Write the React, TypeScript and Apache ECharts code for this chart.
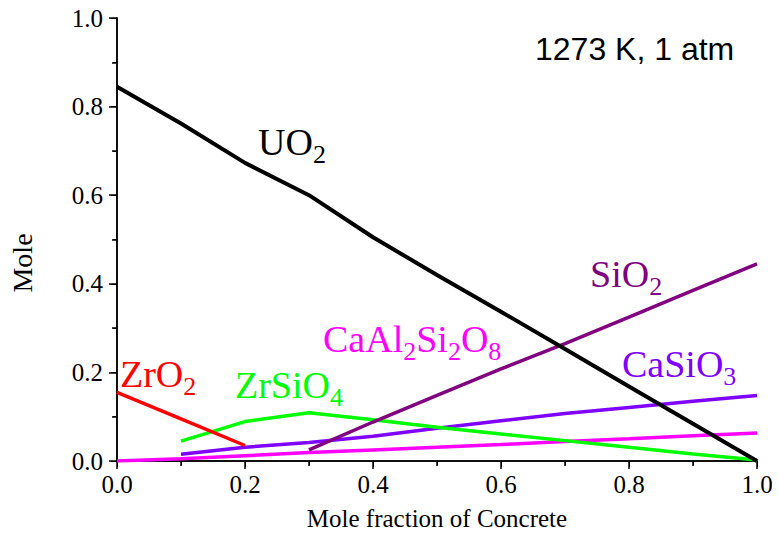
import React, { useEffect, useRef } from "react";
import * as echarts from "echarts";

const uo2X = [0, 0.1, 0.2, 0.3, 0.4, 0.5, 0.6, 0.7, 0.8, 0.9, 1.0];
const uo2Y = [0.845, 0.762, 0.673, 0.6, 0.505, 0.42, 0.337, 0.253, 0.168, 0.084, 0.0];
const zro2X = [0, 0.1, 0.2];
const zro2Y = [0.155, 0.095, 0.035];
const zrsio4X = [0.1, 0.2, 0.3, 0.4, 0.5, 0.6, 0.7, 0.8, 0.9, 1.0];
const zrsio4Y = [0.045, 0.089, 0.109, 0.093, 0.076, 0.061, 0.046, 0.031, 0.016, 0.002];
const sio2X = [0.3, 0.4, 0.5, 0.6, 0.7, 0.8, 0.9, 1.0];
const sio2Y = [0.025, 0.088, 0.148, 0.208, 0.265, 0.325, 0.385, 0.445];
const casio3X = [0.1, 0.2, 0.3, 0.4, 0.5, 0.6, 0.7, 0.8, 0.9, 1.0];
const casio3Y = [0.015, 0.031, 0.042, 0.056, 0.074, 0.091, 0.107, 0.121, 0.135, 0.148];
const caalX = [0, 0.1, 0.2, 0.3, 0.4, 0.5, 0.6, 0.7, 0.8, 0.9, 1.0];
const caalY = [0, 0.005, 0.012, 0.019, 0.025, 0.031, 0.037, 0.044, 0.05, 0.057, 0.063];

const SERIF = "'Liberation Serif', 'Times New Roman', serif";
const SANS = "'Liberation Sans', Arial, sans-serif";
const MAIN_FS = 38;
const SUB_FS = 26;

const zip = (xs: number[], ys: number[]) => xs.map((x, i) => [x, ys[i]]);

let measureCtx: CanvasRenderingContext2D | null = null;
function textWidth(t: string, fs: number) {
  if (!measureCtx) measureCtx = document.createElement("canvas").getContext("2d");
  if (!measureCtx) return t.length * fs * 0.5;
  measureCtx.font = `${fs}px ${SERIF}`;
  return measureCtx.measureText(t).width;
}

// parts: [isSub, text]
function formula(parts: [boolean, string][], color: string, x: number, baseline: number) {
  const children: any[] = [];
  let cx = x;
  for (const [sub, t] of parts) {
    const fs = sub ? SUB_FS : MAIN_FS;
    const b = sub ? baseline + 8 : baseline;
    children.push({
      type: "text",
      x: cx,
      y: b - 0.34 * fs,
      silent: true,
      style: {
        text: t,
        fontSize: fs,
        fontFamily: SERIF,
        fill: color,
        align: "left",
        verticalAlign: "middle",
      },
    });
    cx += textWidth(t, fs);
  }
  return { type: "group", children };
}

export default function App() {
  const ref = useRef<HTMLDivElement>(null);
  useEffect(() => {
    if (!ref.current) return;
    const chart = echarts.init(ref.current, undefined, { renderer: "svg" });
    const axisLine = { show: true, lineStyle: { color: "#000", width: 1.5 } };
    const mkSeries = (name: string, xs: number[], ys: number[], color: string, w: number) => ({
      name,
      type: "line",
      data: zip(xs, ys),
      showSymbol: false,
      symbol: "none",
      lineStyle: { color, width: w },
      itemStyle: { color },
      xAxisIndex: 0,
      yAxisIndex: 0,
    });
    chart.setOption({
      animation: false,
      backgroundColor: "#fff",
      grid: { left: 117, right: 22, top: 18, bottom: 75, containLabel: false, outerBoundsMode: "none" },
      xAxis: [
        {
          type: "value",
          min: 0,
          max: 1,
          interval: 0.2,
          position: "bottom",
          axisLine,
          axisTick: { show: true, inside: false, length: 8, lineStyle: { color: "#000", width: 1.5 } },
          minorTick: { show: true, splitNumber: 2, length: 5, lineStyle: { color: "#000", width: 1.5 } },
          splitLine: { show: false },
          axisLabel: {
            formatter: (v: number) => v.toFixed(1),
            fontSize: 25,
            fontFamily: SERIF,
            color: "#000",
            margin: 11,
          },
          name: "Mole fraction of Concrete",
          nameLocation: "middle",
          nameGap: 45,
          nameTextStyle: { fontSize: 25, fontFamily: SERIF, color: "#000" },
        },
        {
          type: "value",
          min: 0,
          max: 1,
          interval: 0.2,
          position: "top",
          axisLine,
          axisTick: { show: true, inside: true, length: 6, lineStyle: { color: "#000", width: 1 } },
          minorTick: { show: true, splitNumber: 2, length: 4, lineStyle: { color: "#000", width: 1 } },
          splitLine: { show: false },
          axisLabel: { show: false },
        },
      ],
      yAxis: [
        {
          type: "value",
          min: 0,
          max: 1,
          interval: 0.2,
          position: "left",
          axisLine,
          axisTick: { show: true, inside: false, length: 8, lineStyle: { color: "#000", width: 1.5 } },
          minorTick: { show: true, splitNumber: 2, length: 5, lineStyle: { color: "#000", width: 1.5 } },
          splitLine: { show: false },
          axisLabel: {
            formatter: (v: number) => v.toFixed(1),
            fontSize: 25,
            fontFamily: SERIF,
            color: "#000",
            margin: 14,
          },
        },
        {
          type: "value",
          min: 0,
          max: 1,
          interval: 0.2,
          position: "right",
          axisLine,
          axisTick: { show: true, inside: true, length: 6, lineStyle: { color: "#000", width: 1 } },
          minorTick: { show: true, splitNumber: 2, length: 4, lineStyle: { color: "#000", width: 1 } },
          splitLine: { show: false },
          axisLabel: { show: false },
        },
      ],
      series: [
        mkSeries("CaAl2Si2O8", caalX, caalY, "#ff00ff", 3.5),
        mkSeries("CaSiO3", casio3X, casio3Y, "#7f00ff", 3.5),
        mkSeries("ZrSiO4", zrsio4X, zrsio4Y, "#00ff00", 3.5),
        mkSeries("ZrO2", zro2X, zro2Y, "#ff0000", 3.5),
        mkSeries("SiO2", sio2X, sio2Y, "#800080", 3.5),
        mkSeries("UO2", uo2X, uo2Y, "#000000", 4),
      ],
      graphic: [
        {
          type: "text",
          x: 22,
          y: 263,
          rotation: Math.PI / 2,
          silent: true,
          style: {
            text: "Mole",
            fontSize: 28,
            fontFamily: SERIF,
            fill: "#000",
            align: "center",
            verticalAlign: "middle",
          },
        },
        {
          type: "text",
          x: 535,
          y: 49,
          silent: true,
          style: {
            text: "1273 K, 1 atm",
            fontSize: 32,
            fontFamily: SANS,
            fill: "#000",
            align: "left",
            verticalAlign: "middle",
          },
        },
        formula([[false, "UO"], [true, "2"]], "#000000", 258, 155),
        formula([[false, "ZrO"], [true, "2"]], "#ff0000", 120, 387),
        formula([[false, "ZrSiO"], [true, "4"]], "#00ff00", 235, 398),
        formula(
          [[false, "CaAl"], [true, "2"], [false, "Si"], [true, "2"], [false, "O"], [true, "8"]],
          "#ff00ff",
          323,
          352
        ),
        formula([[false, "SiO"], [true, "2"]], "#800080", 590, 287),
        formula([[false, "CaSiO"], [true, "3"]], "#7f00ff", 622, 377),
      ],
    });
    return () => chart.dispose();
  }, []);
  return <div ref={ref} style={{ position: "fixed", left: 0, top: 0, width: 779, height: 536 }} />;
}
